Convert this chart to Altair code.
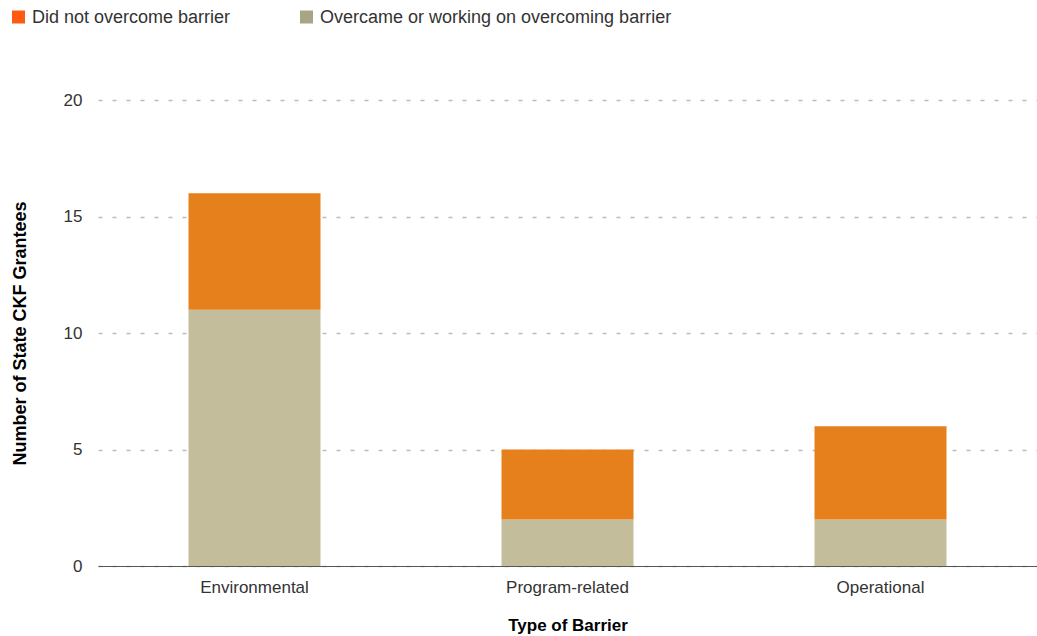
import altair as alt
import pandas as pd

categories = ["Environmental", "Program-related", "Operational"]
series = ["Did not overcome barrier", "Overcame or working on overcoming barrier"]
did_not = [5, 3, 4]
overcame = [11, 2, 2]
bar_colors = ["#E5801C", "#C4BD9C"]
legend_colors = ["#FF5A10", "#A8A585"]
y_ticks = [0, 5, 10, 15, 20]

rows = []
for i, c in enumerate(categories):
    rows.append({"cat": c, "series": series[1], "value": overcame[i], "ord": 0})
    rows.append({"cat": c, "series": series[0], "value": did_not[i], "ord": 1})
df = pd.DataFrame(rows)

FONT = "Liberation Sans"

bars = alt.Chart(df).mark_bar(size=132).encode(
    x=alt.X("cat:N", sort=categories, title="Type of Barrier",
            scale=alt.Scale(paddingInner=0, paddingOuter=0),
            axis=alt.Axis(labelAngle=0, ticks=False, domainColor="#555555",
                          labelPadding=13, labelFontSize=17, labelColor="#333333",
                          titleFontSize=17, titleFontWeight="bold", titleColor="#000000",
                          titlePadding=22, labelFont=FONT, titleFont=FONT)),
    y=alt.Y("value:Q", stack="zero", title="Number of State CKF Grantees",
            scale=alt.Scale(domain=[0, 20], nice=False),
            axis=alt.Axis(values=y_ticks, ticks=False, domain=False,
                          gridDash=[4, 10], gridColor="#BBBBBB", gridWidth=1.5,
                          labelPadding=16, labelFontSize=17, labelColor="#333333",
                          titleFontSize=18, titleFontWeight="bold", titleColor="#000000",
                          titlePadding=34, labelFont=FONT, titleFont=FONT)),
    color=alt.Color("series:N", scale=alt.Scale(domain=series, range=bar_colors), legend=None),
    order=alt.Order("ord:Q", sort="ascending"),
)

leg_df0 = pd.DataFrame({"label": [series[0]]})
leg_df1 = pd.DataFrame({"label": [series[1]]})

def legend_item(d, color, sx, tx):
    sq = alt.Chart(d).mark_square(size=169, color=color, opacity=1).encode(
        x=alt.value(sx), y=alt.value(-83))
    tx_ = alt.Chart(d).mark_text(align="left", baseline="middle", fontSize=18,
                                 font=FONT, color="#333333").encode(
        x=alt.value(tx), y=alt.value(-82), text="label:N")
    return sq + tx_

chart = alt.layer(
    bars,
    legend_item(leg_df0, legend_colors[0], -79.5, -66),
    legend_item(leg_df1, legend_colors[1], 208.5, 222),
).properties(
    width=939, height=466,
    autosize=alt.AutoSizeParams(type="none"),
    padding={"left": 98, "top": 100, "right": 0, "bottom": 70},
).configure_view(stroke=None).configure_axis(grid=True).configure_axisX(grid=False)

chart.save("out.html", embed_options={"renderer": "svg", "actions": False})
